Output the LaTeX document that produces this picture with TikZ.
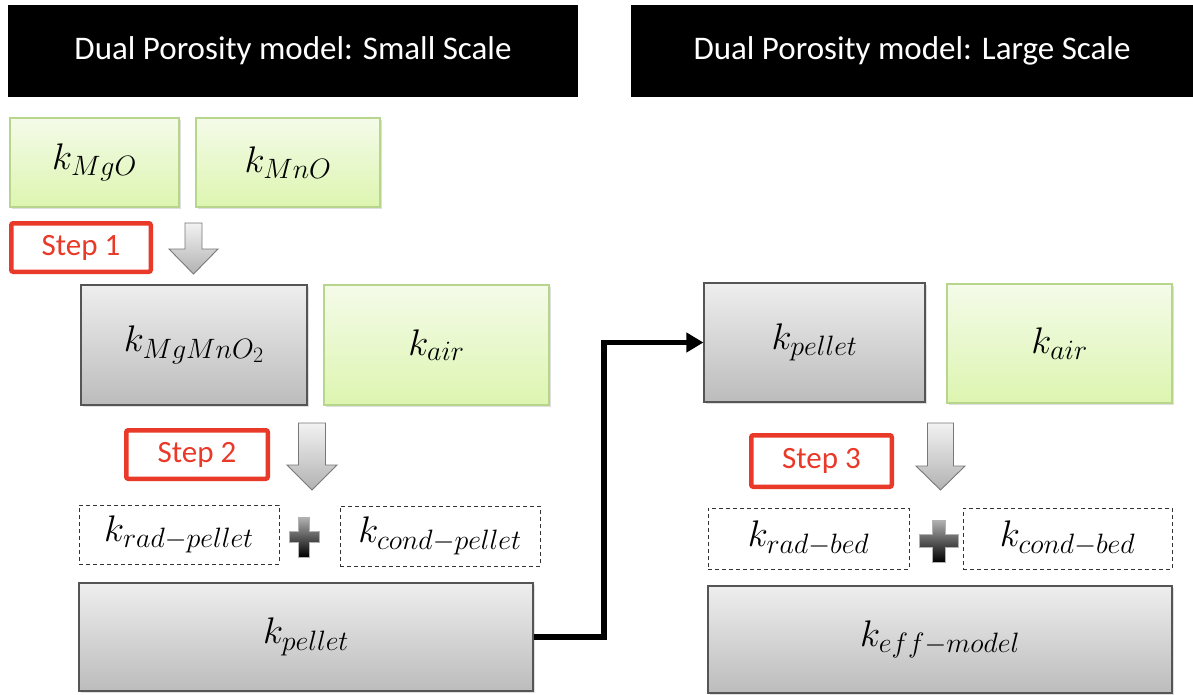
\RequirePackage{fix-cm}
\documentclass[tikz,border=0pt]{standalone}
\usepackage{fontspec}
\newfontfamily\calibri{Carlito}
\usetikzlibrary{shadows,arrows.meta}
\DeclareMathSizes{37}{37}{28}{22}

\definecolor{gtop}{RGB}{244,251,233}
\definecolor{gbot}{RGB}{221,245,176}
\definecolor{gline}{RGB}{184,213,140}
\definecolor{ytop}{RGB}{238,238,238}
\definecolor{ybot}{RGB}{188,188,188}
\definecolor{yline}{RGB}{85,85,85}
\definecolor{stepred}{RGB}{233,57,41}
\definecolor{atop}{RGB}{242,242,242}
\definecolor{abot}{RGB}{178,178,178}
\definecolor{aline}{RGB}{120,120,120}

\newcommand\kfont{\fontsize{37}{42}\selectfont}

% down-pointing block arrow: centre x, top y, tip y, shaft half width, head half width, head length
\newcommand\blockarrow[6]{%
  \path[draw=aline, line width=0.9pt, top color=atop, bottom color=abot]
    (#1-#4,#2) -- (#1+#4,#2) -- (#1+#4,#3-#6) -- (#1+#5,#3-#6) -- (#1,#3)
    -- (#1-#5,#3-#6) -- (#1-#4,#3-#6) -- cycle;}

% shaded plus sign: centre x, centre y, half width, half height, half arm thickness
\newcommand\plussign[5]{%
  \path[draw=gray!60, line width=0.6pt, top color=gray!60, bottom color=black]
    (#1-#5,#2-#4) -- (#1+#5,#2-#4) -- (#1+#5,#2-#5) -- (#1+#3,#2-#5) -- (#1+#3,#2+#5)
    -- (#1+#5,#2+#5) -- (#1+#5,#2+#4) -- (#1-#5,#2+#4) -- (#1-#5,#2+#5) -- (#1-#3,#2+#5)
    -- (#1-#3,#2-#5) -- (#1-#5,#2-#5) -- cycle;}

\tikzset{
  shade box/.style={drop shadow={shadow xshift=1.5pt, shadow yshift=-1.8pt, opacity=0.25}},
  header/.style={fill=black, text=white, inner sep=0pt,
    font=\calibri\fontsize{33}{40}\selectfont},
  greenbox/.style={shade box, draw=gline, line width=1.2pt, top color=gtop, bottom color=gbot,
    inner sep=0pt, font=\kfont},
  greybox/.style={shade box, draw=yline, line width=1.2pt, top color=ytop, bottom color=ybot,
    inner sep=0pt, font=\kfont},
  termbox/.style={draw=black!80, line width=0.8pt, dash pattern=on 4pt off 3pt, fill=white,
    inner sep=0pt, font=\kfont},
  stepbox/.style={draw=stepred, line width=4.5pt, rounded corners=2pt, fill=white,
    text=stepred, inner sep=0pt, font=\calibri\fontsize{31}{36}\selectfont},
  link/.style={line width=5.5pt, -{Triangle[length=17pt,width=19pt]}}
}

\begin{document}
\begin{tikzpicture}[x=1pt, y=-1pt]
\useasboundingbox (0,0) rectangle (1193,694);

% headers
\node[header, minimum width=570pt, minimum height=92pt] (hdrL) at (293,51) {Dual Porosity model: Small Scale};
\node[header, minimum width=562pt, minimum height=92pt] (hdrR) at (912,51) {Dual Porosity model: Large Scale};

% small scale
\node[greenbox, minimum width=169pt, minimum height=89pt] (mgo) at (94.5,162.5) {$k_{MgO}$};
\node[greenbox, minimum width=184pt, minimum height=89pt] (mno) at (288,162.5) {$k_{MnO}$};
\node[stepbox, minimum width=139.5pt, minimum height=48.5pt] (step1) at (81,247.5) {Step 1};
\blockarrow{193.5}{223}{274}{8.5}{24.5}{25}

\node[greybox, minimum width=226pt, minimum height=120pt] (mgmno) at (194,345) {$k_{MgMnO_2}$};
\node[greenbox, minimum width=225pt, minimum height=120pt] (airL) at (436.5,345) {$k_{air}$};
\node[stepbox, minimum width=141.5pt, minimum height=48.5pt] (step2) at (197,454.5) {Step 2};
\blockarrow{312}{423}{490}{13.5}{25}{25}

\node[termbox, minimum width=200pt, minimum height=59pt] (radP) at (179,534.5) {$k_{rad-pellet}$};
\plussign{304}{537}{15}{20}{5.5}
\node[termbox, minimum width=200pt, minimum height=60pt] (condP) at (440,536) {$k_{cond-pellet}$};
\node[greybox, minimum width=454pt, minimum height=108pt] (pelletL) at (306,637) {$k_{pellet}$};

% large scale
\node[greybox, minimum width=221pt, minimum height=119pt] (pelletR) at (814.5,342.5) {$k_{pellet}$};
\node[greenbox, minimum width=225pt, minimum height=119pt] (airR) at (1059.5,343.5) {$k_{air}$};
\node[stepbox, minimum width=140.5pt, minimum height=51.5pt] (step3) at (821.5,461) {Step 3};
\blockarrow{940.5}{423}{490}{13}{24.5}{24}

\node[termbox, minimum width=201pt, minimum height=61pt] (radB) at (808.5,538.5) {$k_{rad-bed}$};
\plussign{938.5}{541}{19.5}{21}{6.5}
\node[termbox, minimum width=209pt, minimum height=61pt] (condB) at (1067.5,538.5) {$k_{cond-bed}$};
\node[greybox, minimum width=464pt, minimum height=107pt] (eff) at (940,639.5) {$k_{eff-model}$};

% pellet conductivity carried over to the bed model
\coordinate (bend) at (604,0);
\draw[link] (pelletL.east) -- (pelletL.east -| bend) -- (pelletR.west -| bend) -- (pelletR.west);
\end{tikzpicture}
\end{document}
